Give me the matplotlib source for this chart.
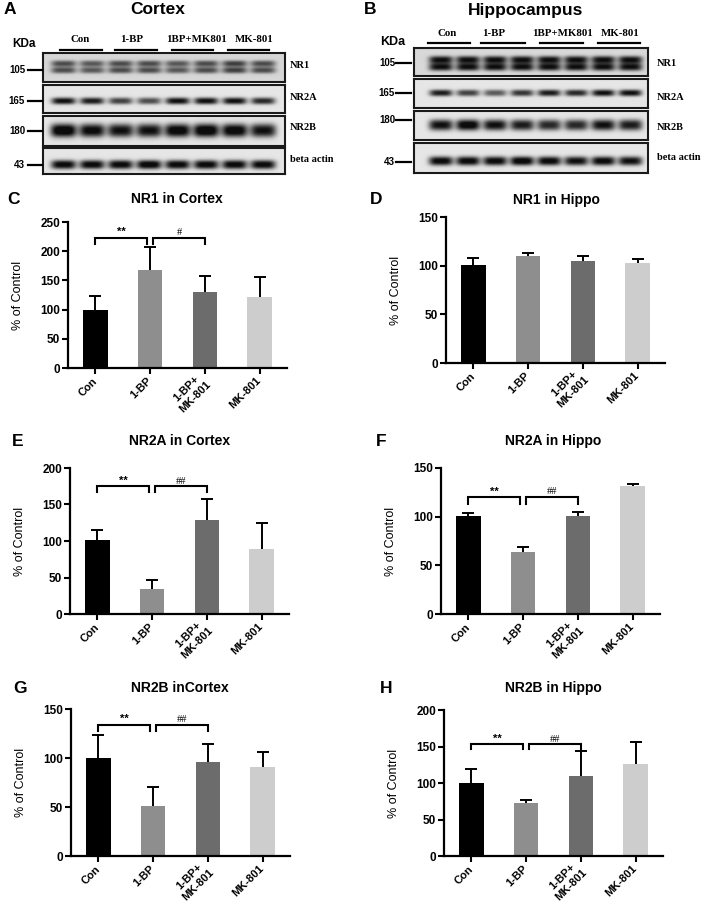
import numpy as np
import matplotlib
matplotlib.use("Agg")
import matplotlib.pyplot as plt
from matplotlib.lines import Line2D

# ---------------- data ----------------
groups = ["Con", "1-BP", "1-BP+\nMK-801", "MK-801"]
blot_groups = ["Con", "1-BP", "1BP+MK801", "MK-801"]
bar_colors = ["#000000", "#8e8e8e", "#6c6c6c", "#cdcdcd"]

nr1_cortex_mean = [100, 167, 130, 122]
nr1_cortex_sem = [23, 40, 28, 34]
nr1_hippo_mean = [101, 110, 105, 103]
nr1_hippo_sem = [7, 3, 5, 4]
nr2a_cortex_mean = [101, 34, 129, 89]
nr2a_cortex_sem = [14, 12, 29, 35]
nr2a_hippo_mean = [101, 64, 101, 131]
nr2a_hippo_sem = [3, 5, 4, 3]
nr2b_cortex_mean = [100, 51, 96, 91]
nr2b_cortex_sem = [23, 19, 18, 15]
nr2b_hippo_mean = [100, 72, 109, 126]
nr2b_hippo_sem = [19, 5, 35, 30]

# blot band intensities (darkness 0..1) per lane
cortex_nr1 = [0.55, 0.5, 0.55, 0.55, 0.5, 0.55, 0.6, 0.55]
cortex_nr2a = [0.85, 0.8, 0.65, 0.6, 0.85, 0.85, 0.85, 0.75]
cortex_nr2b = [1.0, 0.9, 0.85, 0.85, 0.95, 1.0, 0.95, 0.85]
cortex_actin = [0.9, 0.9, 0.9, 0.95, 0.9, 0.9, 0.9, 0.9]
hippo_nr1 = [0.8, 0.8, 0.8, 0.8, 0.8, 0.8, 0.8, 0.8]
hippo_nr2a = [0.8, 0.65, 0.55, 0.7, 0.8, 0.75, 0.85, 0.85]
hippo_nr2b = [0.85, 0.95, 0.85, 0.8, 0.75, 0.75, 0.85, 0.8]
hippo_actin = [0.9, 0.9, 0.9, 0.95, 0.9, 0.85, 0.9, 0.85]
blot_rows = ["NR1", "NR2A", "NR2B", "beta actin"]
markers = ["105", "165", "180", "43"]

# ---------------- figure ----------------
W, H = 706, 905
fig = plt.figure(figsize=(W / 100, H / 100), dpi=100)
fig.patch.set_facecolor("white")
SANS = "Liberation Sans"
SERIF = "Liberation Serif"


def fx(x):
    return x / W


def fy(y):
    return 1 - y / H


def ftext(x, y, s, **kw):
    fig.text(fx(x), fy(y), s, **kw)


def fline(x0, x1, y0, y1, lw=1.6):
    fig.add_artist(Line2D([fx(x0), fx(x1)], [fy(y0), fy(y1)], color="black", lw=lw,
                          transform=fig.transFigure))


def blot(x0, x1, y0, y1, intens, lane_lo, lane_hi, yc_frac, hh, hw, doublet=None, bg=0.88):
    ax = fig.add_axes([fx(x0), fy(y1), fx(x1) - fx(x0), (y1 - y0) / H])
    w, h = x1 - x0, y1 - y0
    xs = np.linspace(0, w, int(w * 4))
    ys = np.linspace(0, h, int(h * 4))
    img = np.full((len(ys), len(xs)), bg)
    lanes = np.linspace(lane_lo * w, lane_hi * w, len(intens))
    offsets = [0] if doublet is None else doublet
    for lx, v in zip(lanes, intens):
        gx = np.exp(-(np.abs(xs - lx) / hw) ** 4)
        for off in offsets:
            gy = np.exp(-(np.abs(ys - (yc_frac * h + off)) / hh) ** 2.5)
            img -= v * np.outer(gy, gx)
    img = np.clip(img, 0.05, 1)
    ax.imshow(img, cmap="gray", vmin=0, vmax=1, extent=[0, w, h, 0], aspect="auto",
              interpolation="bilinear")
    ax.set_xticks([])
    ax.set_yticks([])
    for s in ax.spines.values():
        s.set_linewidth(1.5)
        s.set_color("#1a1a1a")
    return ax


# ---- Panel A: cortex blot ----
ftext(10, 10, "A", fontsize=12.5, fontweight="bold", family=SANS, ha="center", va="center")
ftext(158, 10, "Cortex", fontsize=12.5, fontweight="bold", family=SANS, ha="center", va="center")
ftext(24, 44, "KDa", fontsize=8.5, fontweight="bold", family=SANS, ha="center", va="center")
for lab, cx in zip(blot_groups, [80, 132, 196, 254]):
    ftext(cx, 39, lab, fontsize=7.8, fontweight="bold", family=SERIF, ha="center", va="center")
for (a, b) in [(60, 102), (115, 157), (172, 213), (228, 269)]:
    fline(a, b, 50, 50)
cx0, cx1 = 43, 285
cboxes = [(53, 82), (85, 113), (116, 146), (148, 174)]
blot(cx0, cx1, *cboxes[0], cortex_nr1, 0.085, 0.91, 0.48, 3.2, 12.5, doublet=[-3.3, 3.3], bg=0.84)
blot(cx0, cx1, *cboxes[1], cortex_nr2a, 0.085, 0.91, 0.57, 3.4, 12, bg=0.9)
blot(cx0, cx1, *cboxes[2], cortex_nr2b, 0.085, 0.91, 0.5, 6.5, 13, bg=0.9)
blot(cx0, cx1, *cboxes[3], cortex_actin, 0.085, 0.91, 0.64, 4.5, 12.5, bg=0.9)
for m, y in zip(markers, [70, 101, 131, 165]):
    ftext(25, y, m, fontsize=7, fontweight="bold", family=SANS, ha="right", va="center")
    fline(28, 42, y, y)
for lab, y in zip(blot_rows, [66, 98, 128, 160]):
    ftext(290, y, lab, fontsize=7.5, fontweight="bold", family=SERIF, ha="left", va="center")

# ---- Panel B: hippocampus blot ----
ftext(370, 10, "B", fontsize=12.5, fontweight="bold", family=SANS, ha="center", va="center")
ftext(526, 10, "Hippocampus", fontsize=12.5, fontweight="bold", family=SANS, ha="center", va="center")
ftext(393, 42, "KDa", fontsize=9, fontweight="bold", family=SANS, ha="center", va="center")
for lab, cx in zip(blot_groups, [447, 494, 562, 620]):
    ftext(cx, 34, lab, fontsize=7.8, fontweight="bold", family=SERIF, ha="center", va="center")
for (a, b) in [(428, 470), (481, 525), (540, 583), (598, 640)]:
    fline(a, b, 43, 43)
hx0, hx1 = 414, 648
hboxes = [(48, 76), (79, 108), (111, 140), (143, 173)]
blot(hx0, hx1, *hboxes[0], hippo_nr1, 0.115, 0.925, 0.55, 3.8, 12, doublet=[-3.6, 3.6], bg=0.85)
blot(hx0, hx1, *hboxes[1], hippo_nr2a, 0.115, 0.925, 0.48, 3.3, 11.5, bg=0.9)
blot(hx0, hx1, *hboxes[2], hippo_nr2b, 0.115, 0.925, 0.5, 5.3, 12, bg=0.9)
blot(hx0, hx1, *hboxes[3], hippo_actin, 0.115, 0.925, 0.6, 4.5, 12, bg=0.9)
for m, y in zip(markers, [63, 93, 120, 162]):
    ftext(395, y, m, fontsize=7, fontweight="bold", family=SANS, ha="right", va="center")
    fline(396, 411, y, y)
for lab, y in zip(blot_rows, [63, 98, 127, 157]):
    ftext(657, y, lab, fontsize=7.5, fontweight="bold", family=SERIF, ha="left", va="center")


# ---------------- bar panels ----------------
def bar_panel(x_axis, y_top, y_bot, ymax, means, sems, title, title_xy, letter, letter_xy,
              sig=None):
    width_px = 219
    ax = fig.add_axes([fx(x_axis), fy(y_bot), width_px / W, (y_bot - y_top) / H])
    x = np.arange(len(groups))
    ax.bar(x, means, width=0.45, color=bar_colors, zorder=2)
    tops = np.array(means) + np.array(sems)
    ax.vlines(x, means, tops, color="black", lw=1.4, zorder=1)
    ax.hlines(tops, x - 0.11, x + 0.11, color="black", lw=1.4, zorder=1)
    ax.set_xlim(-0.5, 3.5)
    ax.set_ylim(0, ymax)
    ax.set_yticks(np.arange(0, ymax + 1, 50))
    ax.set_xticks(x)
    ax.set_xticklabels(groups, rotation=45, ha="right", va="center", rotation_mode="anchor",
                       fontsize=8, fontweight="bold", family=SANS, multialignment="center")
    for lab in ax.get_yticklabels():
        lab.set_fontweight("bold")
        lab.set_family(SANS)
        lab.set_fontsize(8.5)
    ax.tick_params(axis="both", direction="out", length=4, width=1.5, pad=1.5)
    ax.tick_params(axis="x", pad=4)
    ax.spines["top"].set_visible(False)
    ax.spines["right"].set_visible(False)
    ax.spines["left"].set_linewidth(1.6)
    ax.spines["bottom"].set_linewidth(1.6)
    ax.set_ylabel("% of Control", fontsize=9, family=SANS)
    ax.yaxis.set_label_coords(-44 / width_px, 0.5)
    ftext(*title_xy, title, fontsize=10, fontweight="bold", family=SANS, ha="center", va="center")
    ftext(*letter_xy, letter, fontsize=12.5, fontweight="bold", family=SANS, ha="center", va="center")
    if sig is not None:
        ytop, ydrop, s2 = sig
        for (a, b), s in [((0, 0.94), "**"), ((1.06, 2), s2)]:
            ax.plot([a, a, b, b], [ydrop, ytop, ytop, ydrop], color="black", lw=1.5,
                    solid_joinstyle="miter", clip_on=False)
            ax.text((a + b) / 2, ytop + ymax * 0.005, s, ha="center", va="bottom",
                    fontsize=8 if s == "**" else 7.5, family=SANS if s == "**" else SERIF,
                    fontweight="bold" if s == "**" else "normal")
    return ax


bar_panel(68, 222, 368, 250, nr1_cortex_mean, nr1_cortex_sem, "NR1 in Cortex", (177, 199),
          "C", (13, 200), sig=(223, 213, "#"))
bar_panel(446, 217, 363, 150, nr1_hippo_mean, nr1_hippo_sem, "NR1 in Hippo", (556, 200),
          "D", (376, 200))
bar_panel(70, 468, 614, 200, nr2a_cortex_mean, nr2a_cortex_sem, "NR2A in Cortex", (180, 441),
          "E", (18, 441), sig=(175, 167, "##"))
bar_panel(441, 468, 614, 150, nr2a_hippo_mean, nr2a_hippo_sem, "NR2A in Hippo", (553, 441),
          "F", (381, 441), sig=(120, 113, "##"))
bar_panel(71, 709, 856, 150, nr2b_cortex_mean, nr2b_cortex_sem, "NR2B inCortex", (180, 688),
          "G", (20, 688), sig=(134, 128, "##"))
bar_panel(444, 710, 856, 200, nr2b_hippo_mean, nr2b_hippo_sem, "NR2B in Hippo", (553, 688),
          "H", (386, 688), sig=(153, 146, "##"))

fig.savefig("out.png", dpi=100, facecolor="white")
